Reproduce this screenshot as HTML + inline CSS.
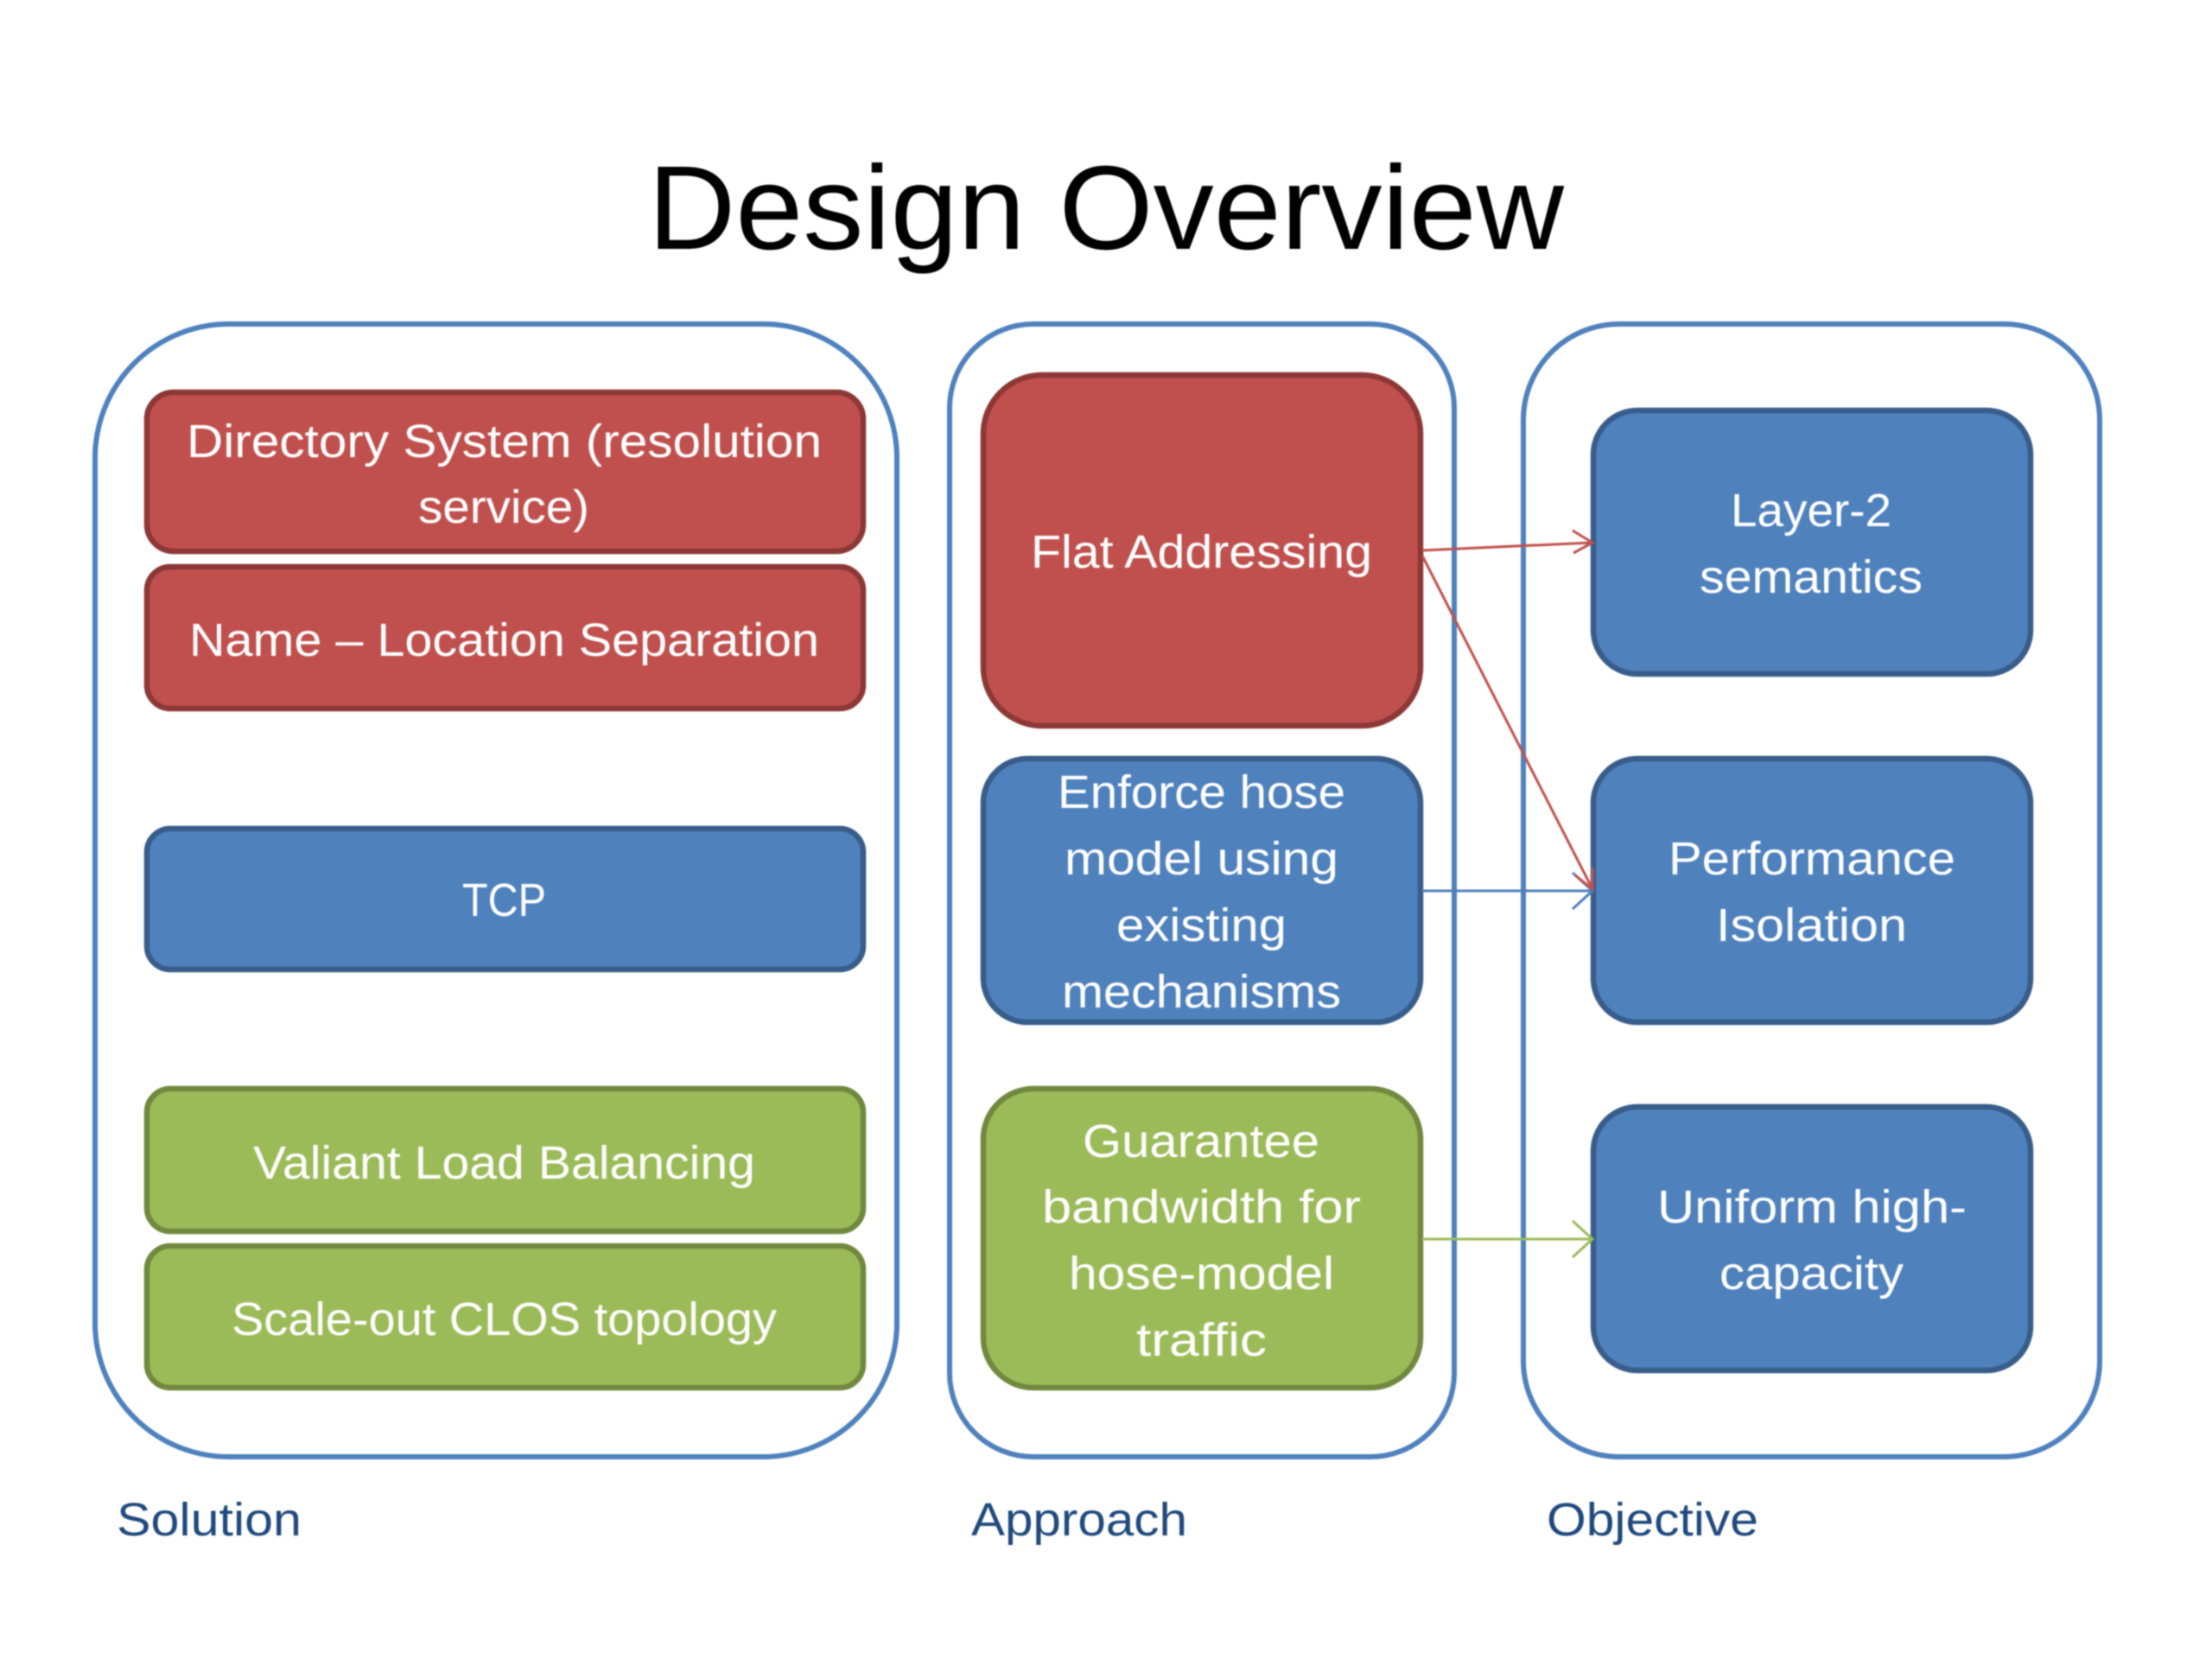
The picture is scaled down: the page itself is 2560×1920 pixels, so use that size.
<!DOCTYPE html>
<html lang="en">
<head>
<meta charset="utf-8">
<title>Design Overview</title>
<style>
html,body{margin:0;padding:0;background:#fff;width:2560px;height:1920px;overflow:hidden}
svg{display:block;filter:blur(0.7px)}
text{font-family:"Liberation Sans",Arial,sans-serif}
.w{fill:#fff;font-size:54px}
.l{fill:#1F497D;font-size:54px}
.o{fill:none;stroke:#4F81BD;stroke-width:6}
.r{fill:#C0504D;stroke:#8C3836;stroke-width:6.5}
.b{fill:#4F81BD;stroke:#385D8A;stroke-width:6.5}
.g{fill:#9BBB59;stroke:#71893F;stroke-width:6.5}
</style>
</head>
<body>
<svg xmlns="http://www.w3.org/2000/svg" width="2560" height="1920" viewBox="0 0 2560 1920">
<rect width="2560" height="1920" fill="#fff"/>
<text x="750" y="288" font-size="138" fill="#000" textLength="1060" lengthAdjust="spacingAndGlyphs">Design Overview</text>

<rect class="o" x="110" y="375" width="928" height="1311" rx="155" ry="155"/>
<rect class="o" x="1099" y="375" width="584" height="1311" rx="97" ry="97"/>
<rect class="o" x="1763" y="375" width="667" height="1311" rx="111" ry="111"/>

<rect class="r" x="170" y="454" width="829" height="184" rx="31" ry="31"/>
<rect class="r" x="170" y="656" width="829" height="164" rx="27" ry="27"/>
<rect class="b" x="170" y="959" width="829" height="163" rx="27" ry="27"/>
<rect class="g" x="170" y="1260" width="829" height="165" rx="27" ry="27"/>
<rect class="g" x="170" y="1442" width="829" height="164" rx="27" ry="27"/>

<rect class="r" x="1138" y="434" width="506" height="406" rx="68" ry="68"/>
<rect class="b" x="1138" y="878" width="506" height="305" rx="51" ry="51"/>
<rect class="g" x="1138" y="1260" width="506" height="346" rx="58" ry="58"/>

<rect class="b" x="1844" y="475" width="506" height="305" rx="51" ry="51"/>
<rect class="b" x="1844" y="878" width="506" height="305" rx="51" ry="51"/>
<rect class="b" x="1844" y="1281" width="506" height="305" rx="51" ry="51"/>

<g fill="none" stroke-width="3">
<path d="M1646 1031H1843M1820 1010L1843 1031L1820 1052" stroke="#4F81BD"/>
<path d="M1646 1434H1843M1820 1413L1843 1434L1820 1455" stroke="#9BBB59"/>
<path d="M1646 637L1843 628M1820 614L1843 628L1821 640" stroke="#C0504D"/>
<path d="M1646 643L1843 1029M1823 1013L1843 1029L1843 1004" stroke="#C0504D"/>
</g>

<text class="w" x="216" y="529" textLength="735" lengthAdjust="spacingAndGlyphs">Directory System (resolution</text>
<text class="w" x="484" y="605" textLength="198" lengthAdjust="spacingAndGlyphs">service)</text>
<text class="w" x="219" y="759" textLength="729" lengthAdjust="spacingAndGlyphs">Name – Location Separation</text>
<text class="w" x="535" y="1060" textLength="97" lengthAdjust="spacingAndGlyphs">TCP</text>
<text class="w" x="293" y="1364" textLength="581" lengthAdjust="spacingAndGlyphs">Valiant Load Balancing</text>
<text class="w" x="268" y="1545" textLength="631" lengthAdjust="spacingAndGlyphs">Scale-out CLOS topology</text>

<text class="w" x="1193" y="657" textLength="395" lengthAdjust="spacingAndGlyphs">Flat Addressing</text>
<text class="w" x="1224" y="935" textLength="333" lengthAdjust="spacingAndGlyphs">Enforce hose</text>
<text class="w" x="1232" y="1012" textLength="317" lengthAdjust="spacingAndGlyphs">model using</text>
<text class="w" x="1292" y="1089" textLength="197" lengthAdjust="spacingAndGlyphs">existing</text>
<text class="w" x="1229" y="1166" textLength="323" lengthAdjust="spacingAndGlyphs">mechanisms</text>
<text class="w" x="1253" y="1339" textLength="274" lengthAdjust="spacingAndGlyphs">Guarantee</text>
<text class="w" x="1206" y="1415" textLength="369" lengthAdjust="spacingAndGlyphs">bandwidth for</text>
<text class="w" x="1237" y="1492" textLength="307" lengthAdjust="spacingAndGlyphs">hose-model</text>
<text class="w" x="1315" y="1569" textLength="151" lengthAdjust="spacingAndGlyphs">traffic</text>

<text class="w" x="2003" y="609" textLength="186" lengthAdjust="spacingAndGlyphs">Layer-2</text>
<text class="w" x="1967" y="686" textLength="258" lengthAdjust="spacingAndGlyphs">semantics</text>
<text class="w" x="1931" y="1012" textLength="332" lengthAdjust="spacingAndGlyphs">Performance</text>
<text class="w" x="1986" y="1089" textLength="221" lengthAdjust="spacingAndGlyphs">Isolation</text>
<text class="w" x="1918" y="1415" textLength="358" lengthAdjust="spacingAndGlyphs">Uniform high-</text>
<text class="w" x="1990" y="1492" textLength="213" lengthAdjust="spacingAndGlyphs">capacity</text>

<text class="l" x="135" y="1777" textLength="214" lengthAdjust="spacingAndGlyphs">Solution</text>
<text class="l" x="1124" y="1777" textLength="250" lengthAdjust="spacingAndGlyphs">Approach</text>
<text class="l" x="1790" y="1777" textLength="245" lengthAdjust="spacingAndGlyphs">Objective</text>
</svg>
</body>
</html>
